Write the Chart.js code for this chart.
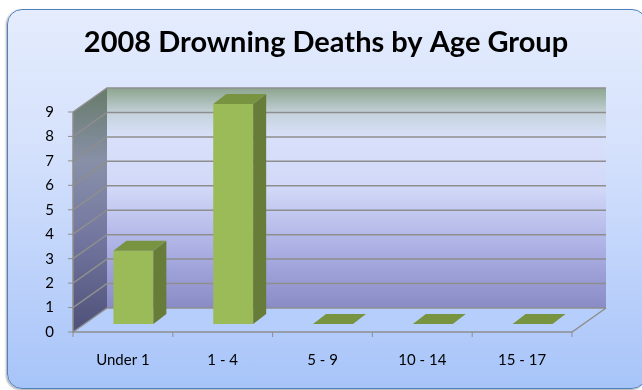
<!DOCTYPE html>
<html lang="en">
<head>
<meta charset="utf-8">
<title>2008 Drowning Deaths by Age Group</title>
<script src="https://cdn.jsdelivr.net/npm/chart.js@4"></script>
<style>
  html, body { margin: 0; padding: 0; background: #fff; }
  #wrap { position: relative; width: 642px; height: 390px; overflow: hidden; }
  #card {
    position: absolute; left: 7px; top: 9px; width: 640px; height: 380px;
    box-sizing: border-box; border: 1.5px solid #4f81bd; border-radius: 15px;
    background: linear-gradient(#e4ecfd 0%, #d6e2fc 35%, #a7c4f9 100%);
    box-shadow: -1px 1px 2px rgba(0, 0, 0, .35);
  }
  canvas { position: absolute; left: 0; top: 0; }
</style>
</head>
<body>
<div id="wrap">
  <div id="card"></div>
  <canvas id="chart" width="642" height="390"></canvas>
</div>
<script>
const AGE_GROUPS = ['Under 1', '1 - 4', '5 - 9', '10 - 14', '15 - 17'];
const DEATHS = [3, 9, 0, 0, 0];
const Y_MAX = 9;

// depth of the floor / walls and of each column (px)
const DEPTH = { dx: 34, dy: 24 };
const BAR = { ox: 10.5, oy: 8, dx: 13, dy: 10 };

const line = (ctx, pts, color, w) => {
  ctx.beginPath();
  ctx.moveTo(pts[0][0], pts[0][1]);
  for (let i = 1; i < pts.length; i++) ctx.lineTo(pts[i][0], pts[i][1]);
  ctx.strokeStyle = color; ctx.lineWidth = w; ctx.stroke();
};
const poly = (ctx, pts, fill) => {
  ctx.beginPath();
  ctx.moveTo(pts[0][0], pts[0][1]);
  for (let i = 1; i < pts.length; i++) ctx.lineTo(pts[i][0], pts[i][1]);
  ctx.closePath(); ctx.fillStyle = fill; ctx.fill();
};

// walls, floor, grid lines and axis ticks of the 3-D box
const box3d = {
  id: 'box3d',
  beforeDatasetsDraw(chart) {
    const { ctx, chartArea: { left, right, top, bottom }, scales: { x, y } } = chart;
    const { dx, dy } = DEPTH;
    ctx.save();

    // floor
    poly(ctx, [[left, bottom], [right, bottom], [right + dx, bottom - dy], [left + dx, bottom - dy]], '#b6cefb');

    // back wall
    let g = ctx.createLinearGradient(0, top - dy, 0, bottom - dy);
    g.addColorStop(0, '#8da58e');
    g.addColorStop(0.12, '#c6d3dd');
    g.addColorStop(0.22, '#d8e0fa');
    g.addColorStop(0.45, '#d2d9f8');
    g.addColorStop(0.72, '#adb1e4');
    g.addColorStop(1, '#898bc6');
    ctx.fillStyle = g;
    ctx.fillRect(left + dx, top - dy, right - left, bottom - top);

    // side wall
    g = ctx.createLinearGradient(0, top - dy, 0, bottom);
    g.addColorStop(0, '#677b6a');
    g.addColorStop(0.3, '#8890a8');
    g.addColorStop(0.6, '#7478a0');
    g.addColorStop(1, '#4e5078');
    poly(ctx, [[left, top], [left + dx, top - dy], [left + dx, bottom - dy], [left, bottom]], g);

    // grid lines across the side and back walls
    for (let v = 0; v <= Y_MAX; v++) {
      const py = y.getPixelForValue(v);
      line(ctx, [[left, py], [left + dx, py - dy], [right + dx, py - dy]], '#8e8e8e', 1.5);
      line(ctx, [[left - 5, py], [left, py]], '#8e8e8e', 1);
    }

    // front edges
    line(ctx, [[left, top], [left, bottom], [right, bottom], [right + dx, bottom - dy]], '#8e8e8e', 1.5);
    const half = (x.getPixelForValue(1) - x.getPixelForValue(0)) / 2;
    for (let i = 0; i <= AGE_GROUPS.length; i++) {
      const px = i < AGE_GROUPS.length ? x.getPixelForValue(i) - half : x.getPixelForValue(i - 1) + half;
      line(ctx, [[px, bottom], [px, bottom + 5]], '#8e8e8e', 1);
    }
    ctx.restore();
  },
  // columns: front, side and top faces
  afterDatasetsDraw(chart) {
    const { ctx } = chart;
    ctx.save();
    chart.getDatasetMeta(0).data.forEach((el, i) => {
      const { x, y, base, width } = el.getProps(['x', 'y', 'base', 'width'], true);
      const l = x - width / 2 + BAR.ox, r = x + width / 2 + BAR.ox;
      const t = y - BAR.oy, b = base - BAR.oy;
      if (DEATHS[i] > 0) {
        ctx.fillStyle = '#9bbb59';
        ctx.fillRect(l, t, r - l, b - t);
        poly(ctx, [[r, t], [r + BAR.dx, t - BAR.dy], [r + BAR.dx, b - BAR.dy], [r, b]], '#677c38');
      }
      poly(ctx, [[l, t], [l + BAR.dx, t - BAR.dy], [r + BAR.dx, t - BAR.dy], [r, t]], '#799441');
    });
    ctx.restore();
  },
};

new Chart(document.getElementById('chart'), {
  type: 'bar',
  data: {
    labels: AGE_GROUPS,
    datasets: [{
      label: 'Deaths',
      data: DEATHS,
      backgroundColor: 'rgba(0,0,0,0)',
      borderWidth: 0,
      barPercentage: 0.4,
      categoryPercentage: 1,
    }],
  },
  options: {
    responsive: false,
    animation: false,
    layout: { padding: { left: 10, right: 0, top: 0, bottom: 0 } },
    plugins: {
      legend: { display: false },
      tooltip: { enabled: false },
      title: {
        display: true,
        text: '2008 Drowning Deaths by Age Group',
        color: '#000',
        font: { family: 'Lato', size: 29, weight: 'bold', lineHeight: 1.2 },
        padding: { top: 25.6, bottom: 51.6 },
      },
    },
    scales: {
      x: {
        grid: { display: false, drawTicks: false },
        border: { display: false },
        ticks: { color: '#000', font: { family: 'Lato', size: 15 }, padding: 19, maxRotation: 0 },
        afterFit: (s) => { s.height = 58; },
      },
      y: {
        min: 0, max: Y_MAX,
        grid: { display: false, drawTicks: false },
        border: { display: false },
        ticks: { stepSize: 1, color: '#000', font: { family: 'Lato', size: 15 }, padding: 19 },
        afterFit: (s) => { s.width = 63; },
      },
      // empty strip right of the plot that leaves room for the box depth
      side: {
        type: 'linear', position: 'right', display: true,
        grid: { display: false, drawTicks: false },
        border: { display: false },
        ticks: { display: false },
        afterFit: (s) => { s.width = 70; },
      },
    },
  },
  plugins: [box3d],
});
</script>
</body>
</html>
